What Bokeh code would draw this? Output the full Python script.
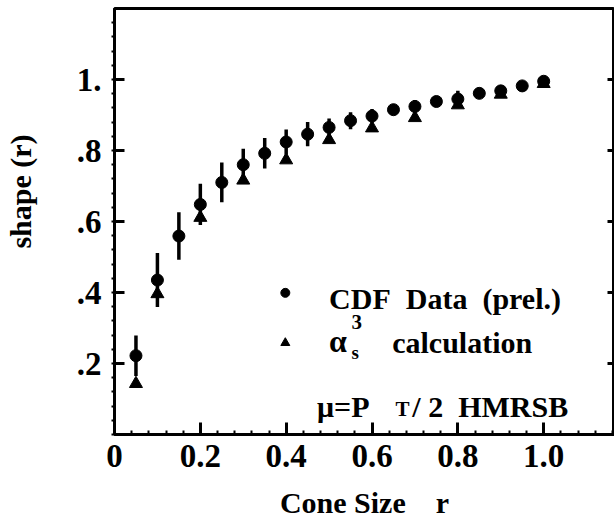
import numpy as np
from bokeh.plotting import figure
from bokeh.models import FixedTicker, LinearAxis, Label, ColumnDataSource
from bokeh.embed import file_html
from bokeh.resources import INLINE

# ---------------- data ----------------
cone_r = [0.05, 0.10, 0.15, 0.20, 0.25, 0.30, 0.35, 0.40, 0.45, 0.50,
          0.55, 0.60, 0.65, 0.70, 0.75, 0.80, 0.85, 0.90, 0.95, 1.00]
cdf_shape = [0.222, 0.435, 0.559, 0.648, 0.710, 0.760, 0.792, 0.824, 0.846, 0.865,
             0.884, 0.897, 0.915, 0.924, 0.938, 0.945, 0.961, 0.968, 0.982, 0.995]
cdf_err = [0.057, 0.076, 0.067, 0.058, 0.056, 0.045, 0.043, 0.035, 0.034, 0.025,
           0.024, 0.020, 0.015, 0.018, 0.010, 0.023, 0.008, 0.015, 0.008, 0.010]

calc_r = [0.05, 0.10, 0.20, 0.30, 0.40, 0.50, 0.60, 0.70, 0.80, 0.90, 1.00]
calc_shape = [0.143, 0.396, 0.611, 0.716, 0.773, 0.830, 0.863, 0.892, 0.928, 0.958, 0.988]

x_tick_values = [0, 0.2, 0.4, 0.6, 0.8, 1.0]
x_tick_labels = ["0", "0.2", "0.4", "0.6", "0.8", "1.0"]
y_tick_values = [0.2, 0.4, 0.6, 0.8, 1.0]
y_tick_labels = [".2", ".4", ".6", ".8", "1."]

FONT = "Liberation Serif"
NB = "\u00a0"

# ---------------- figure ----------------
p = figure(width=614, height=531, x_range=(0, 1.165), y_range=(0, 1.2),
           output_backend="svg", toolbar_location=None,
           min_border_left=112, min_border_top=8, min_border_bottom=97,
           min_border_right=0, background_fill_color="white",
           border_fill_color="white")
p.grid.visible = False
p.outline_line_color = "black"
p.outline_line_width = 3

# error bars
src = ColumnDataSource(dict(
    r=cone_r,
    lo=[v - e for v, e in zip(cdf_shape, cdf_err)],
    hi=[v + e for v, e in zip(cdf_shape, cdf_err)],
))
p.segment(x0="r", y0="lo", x1="r", y1="hi", source=src, line_color="black", line_width=3.5)

# calculation triangles and data points
p.scatter(calc_r, calc_shape, marker="triangle", size=13, color="black")
p.scatter(cone_r, cdf_shape, marker="circle", size=12, color="black")

# ---------------- axes ----------------
xax = p.xaxis[0]
xax.ticker = FixedTicker(ticks=x_tick_values,
                         minor_ticks=list(np.round(np.arange(0, 1.17, 0.04), 2)))
xax.major_label_overrides = dict(zip(x_tick_values, x_tick_labels))
xax.axis_label = "Cone" + NB + "Size" + NB * 4 + "r"
yax = p.yaxis[0]
yax.ticker = FixedTicker(ticks=y_tick_values,
                         minor_ticks=list(np.round(np.arange(0, 1.2, 0.04), 2)))
yax.major_label_overrides = dict(zip(y_tick_values, y_tick_labels))
yax.axis_label = NB * 8 + "shape" + NB + "(r)"

for ax in (xax, yax):
    ax.axis_line_width = 3
    ax.axis_line_color = "black"
    ax.major_tick_line_width = 3
    ax.minor_tick_line_width = 2
    ax.major_tick_line_color = "black"
    ax.minor_tick_line_color = "black"
    ax.major_tick_out = 0
    ax.major_label_text_font = FONT
    ax.major_label_text_font_style = "bold"
    ax.major_label_text_color = "black"
    ax.major_label_text_font_size = "33px"
    ax.axis_label_text_font = FONT
    ax.axis_label_text_font_style = "bold"
    ax.axis_label_text_font_size = "30px"
    ax.axis_label_text_color = "black"

xax.major_tick_in = 12
xax.minor_tick_in = 4
xax.minor_tick_out = 0
xax.major_label_standoff = 10
xax.axis_label_standoff = 16

yax.major_tick_in = 10
yax.minor_tick_in = 0
yax.minor_tick_out = 3
yax.major_label_standoff = 10
yax.axis_label_standoff = 37

right = LinearAxis(ticker=FixedTicker(ticks=y_tick_values, minor_ticks=[]),
                   axis_line_color=None, major_tick_in=7, major_tick_out=0,
                   major_tick_line_width=3, major_label_standoff=0,
                   major_label_text_font_size="1px", major_label_text_alpha=0)
p.add_layout(right, "right")

# ---------------- legend / annotations ----------------
legend_key_x = 0.398
p.scatter([legend_key_x], [0.399], marker="circle", size=9, color="black")
p.scatter([legend_key_x], [0.258], marker="triangle", size=9, color="black")

def lab(x, y, text, size):
    p.add_layout(Label(x=x, y=y, text=text, text_font=FONT, text_font_size=size,
                       text_font_style="bold", text_color="black",
                       text_baseline="alphabetic", text_align="left"))

lab(0.500, 0.382, "CDF" + NB * 2 + "Data" + NB * 2 + "(prel.)", "30px")
lab(0.500, 0.262, "\u03b1", "32px")
lab(0.552, 0.318, "3", "21px")
lab(0.552, 0.232, "s", "19px")
lab(0.647, 0.258, "calculation", "30px")
lab(0.472, 0.078, "\u03bc=P", "30px")
lab(0.655, 0.072, "T", "21px")
lab(0.694, 0.078, "/" + NB + "2" + NB * 2 + "HMRSB", "30px")

open("out.html", "w").write(file_html(p, INLINE))
